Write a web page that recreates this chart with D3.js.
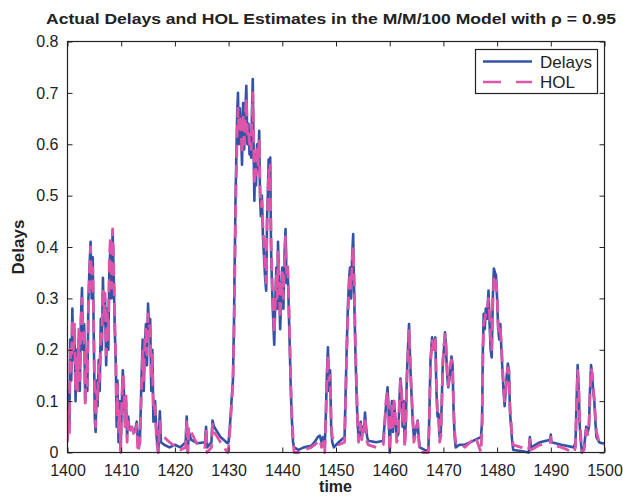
<!DOCTYPE html>
<html><head><meta charset="utf-8">
<script src="https://cdn.jsdelivr.net/npm/d3@7"></script>
<style>html,body{margin:0;padding:0;background:#fff;}svg{display:block;}</style>
</head><body>
<script>
const seriesNames = ["Delays", "HOL"];
const xTicks = [1400,1410,1420,1430,1440,1450,1460,1470,1480,1490,1500];
const yTicks = [0,0.1,0.2,0.3,0.4,0.5,0.6,0.7,0.8];
const yTickLabels = ["0","0.1","0.2","0.3","0.4","0.5","0.6","0.7","0.8"];

const times = [
1400.0,1400.2,1400.35,1400.5,1400.7,1400.9,1401.1,1401.3,
1401.5,1401.7,1401.9,1402.1,1402.3,1402.5,1402.7,1402.9,
1403.1,1403.3,1403.5,1403.7,1403.9,1404.1,1404.3,1404.5,
1404.7,1404.9,1405.1,1405.25,1405.4,1405.6,1405.8,1406.0,
1406.2,1406.4,1406.6,1406.8,1407.0,1407.2,1407.4,1407.6,
1407.8,1408.0,1408.2,1408.4,1408.6,1408.8,1409.0,1409.15,
1409.3,1409.5,1409.7,1409.9,1410.1,1410.3,1410.5,1410.7,
1410.9,1411.1,1411.3,1411.5,1412.0,1412.5,1412.9,1413.1,
1413.5,1413.8,1414.0,1414.2,1414.4,1414.6,1414.8,1415.0,
1415.2,1415.4,1415.6,1415.8,1416.0,1416.3,1416.6,1416.9,
1417.2,1417.4,1418.0,1419.0,1420.0,1421.0,1422.0,1422.2,
1422.4,1422.6,1423.0,1424.2,1425.6,1425.8,1426.0,1426.8,
1427.0,1427.3,1428.5,1429.8,1430.0,1430.3,1430.6,1430.8,
1431.0,1431.1,1431.3,1431.45,1431.6,1431.75,1431.9,1432.1,
1432.3,1432.5,1432.7,1432.9,1433.1,1433.3,1433.5,1433.7,
1433.9,1434.1,1434.2,1434.35,1434.5,1434.65,1434.8,1434.95,
1435.1,1435.3,1435.5,1435.7,1435.85,1436.0,1436.2,1436.4,
1436.6,1436.8,1437.0,1437.15,1437.3,1437.45,1437.6,1437.75,
1437.9,1438.1,1438.3,1438.5,1438.7,1438.9,1439.05,1439.2,
1439.4,1439.6,1439.8,1440.0,1440.2,1440.4,1440.6,1440.8,
1441.0,1441.2,1441.4,1441.6,1441.8,1442.0,1442.2,1443.0,
1444.0,1445.4,1446.0,1446.6,1447.0,1447.3,1447.6,1447.9,
1448.1,1448.3,1448.5,1448.7,1448.9,1449.1,1449.3,1449.6,
1450.5,1451.6,1451.8,1452.0,1452.2,1452.4,1452.6,1452.8,
1453.0,1453.2,1453.4,1453.6,1453.8,1454.0,1454.2,1454.4,
1454.6,1454.8,1455.0,1455.2,1455.4,1455.6,1455.8,1456.0,
1457.5,1458.8,1459.0,1459.3,1459.6,1459.8,1460.0,1460.2,
1460.4,1460.6,1460.8,1461.0,1461.3,1461.6,1461.8,1462.0,
1462.2,1462.4,1462.6,1462.8,1463.0,1463.2,1463.4,1463.6,
1463.8,1464.0,1464.3,1464.5,1464.7,1465.0,1465.2,1465.4,
1465.6,1466.5,1467.2,1467.4,1467.6,1467.9,1468.1,1468.3,
1468.5,1468.7,1468.9,1469.1,1469.3,1469.5,1469.7,1469.9,
1470.1,1470.3,1470.5,1470.7,1470.9,1471.1,1471.3,1471.5,
1471.7,1471.9,1472.1,1472.3,1473.0,1474.0,1475.0,1476.0,
1477.0,1477.2,1477.35,1477.5,1477.7,1477.9,1478.1,1478.4,
1478.6,1478.8,1479.0,1479.2,1479.4,1479.6,1479.8,1480.0,
1480.2,1480.4,1480.6,1480.8,1481.0,1481.2,1481.4,1481.6,
1481.8,1482.0,1482.2,1482.4,1482.6,1482.8,1483.0,1484.5,
1485.9,1486.1,1486.3,1488.0,1489.9,1490.0,1490.1,1492.0,
1494.3,1494.6,1494.8,1495.0,1495.2,1495.4,1495.6,1495.8,
1496.2,1496.6,1496.9,1497.1,1497.3,1497.5,1497.7,1497.9,
1498.1,1498.3,1498.5,1499.0,1499.5,1500.0
];

const delays = [
0.03,0.12,0.05,0.22,0.14,0.28,0.18,0.24,
0.1,0.2,0.13,0.22,0.12,0.26,0.32,0.2,
0.25,0.1,0.18,0.12,0.3,0.36,0.41,0.3,
0.38,0.22,0.06,0.04,0.14,0.09,0.18,0.12,
0.26,0.2,0.34,0.25,0.3,0.17,0.28,0.2,
0.36,0.4,0.3,0.43,0.35,0.24,0.17,0.05,
0.14,0.02,0.1,0.005,0.09,0.16,0.12,0.06,
0.1,0.03,0.07,0.05,0.045,0.04,0.06,0.02,
0.03,0.15,0.22,0.12,0.2,0.25,0.17,0.29,
0.24,0.26,0.12,0.2,0.06,0.1,0.03,0.0,
0.08,0.02,0.015,0.01,0.015,0.01,0.02,0.07,
0.0,0.04,0.025,0.018,0.02,0.05,0.01,0.02,
0.062,0.05,0.03,0.018,0.02,0.06,0.11,0.14,
0.25,0.34,0.5,0.58,0.66,0.7,0.6,0.67,
0.63,0.56,0.68,0.59,0.66,0.714,0.6,0.64,
0.58,0.62,0.574,0.66,0.727,0.6,0.49,0.58,
0.52,0.6,0.55,0.626,0.5,0.46,0.5,0.42,
0.38,0.34,0.315,0.45,0.5,0.57,0.52,0.574,
0.4,0.32,0.26,0.21,0.3,0.36,0.28,0.41,
0.33,0.24,0.3,0.36,0.28,0.38,0.435,0.33,
0.36,0.28,0.2,0.115,0.06,0.02,0.01,0.005,
0.01,0.013,0.02,0.03,0.033,0.02,0.03,0.01,
0.07,0.15,0.205,0.12,0.16,0.05,0.02,0.01,
0.02,0.03,0.12,0.205,0.28,0.33,0.36,0.3,
0.38,0.425,0.3,0.2,0.127,0.06,0.03,0.036,
0.06,0.03,0.05,0.04,0.078,0.05,0.03,0.023,
0.02,0.023,0.05,0.09,0.127,0.08,0.0,0.06,
0.1,0.04,0.1,0.07,0.03,0.036,0.1,0.144,
0.12,0.05,0.1,0.02,0.06,0.15,0.2,0.25,
0.18,0.127,0.06,0.03,0.036,0.05,0.062,0.03,
0.01,0.005,0.004,0.08,0.18,0.224,0.2,0.21,
0.224,0.12,0.07,0.075,0.03,0.036,0.1,0.18,
0.2,0.234,0.2,0.15,0.127,0.14,0.16,0.187,
0.17,0.08,0.03,0.01,0.015,0.015,0.02,0.025,
0.03,0.06,0.2,0.27,0.24,0.28,0.26,0.315,
0.25,0.2,0.185,0.3,0.358,0.35,0.345,0.3,
0.24,0.22,0.25,0.2,0.16,0.12,0.09,0.12,
0.15,0.173,0.16,0.08,0.05,0.023,0.005,0.003,
0.0,0.03,0.01,0.02,0.025,0.035,0.02,0.015,
0.01,0.02,0.1,0.17,0.12,0.05,0.02,0.0,
0.01,0.05,0.04,0.05,0.12,0.17,0.15,0.12,
0.1,0.06,0.03,0.02,0.018,0.018
];

const hol = [
0.02,0.08,0.03,0.2,0.16,0.26,0.2,0.25,
0.12,0.19,0.12,0.24,0.14,0.25,0.3,0.22,
0.24,0.09,0.2,0.13,0.28,0.35,0.4,0.32,
0.36,0.24,0.08,0.05,0.12,0.1,0.17,0.14,
0.24,0.22,0.32,0.27,0.31,0.19,0.27,0.22,
0.38,0.42,0.32,0.435,0.37,0.26,0.18,0.07,
0.13,0.04,0.09,0.0,0.1,0.15,0.13,0.05,
0.11,0.02,0.06,0.04,0.05,0.03,0.055,0.0,
0.02,0.13,0.2,0.14,0.22,0.24,0.19,0.27,
0.25,0.24,0.14,0.19,0.08,0.09,0.02,0.0,
0.06,0.03,0.03,0.02,0.012,0.005,0.01,0.065,
0.0,0.05,0.04,0.015,0.01,0.045,0.0,0.01,
0.055,0.04,0.02,0.0,0.01,0.05,0.1,0.13,
0.22,0.3,0.46,0.55,0.62,0.67,0.63,0.65,
0.64,0.58,0.66,0.6,0.65,0.69,0.62,0.63,
0.6,0.61,0.59,0.64,0.7,0.62,0.52,0.56,
0.54,0.59,0.56,0.61,0.52,0.48,0.49,0.44,
0.4,0.36,0.33,0.43,0.49,0.55,0.53,0.56,
0.42,0.34,0.28,0.23,0.29,0.35,0.3,0.39,
0.34,0.26,0.31,0.35,0.3,0.37,0.42,0.35,
0.37,0.3,0.22,0.13,0.07,0.03,0.0,0.0,
0.005,0.01,0.015,0.02,0.025,0.01,0.02,0.0,
0.06,0.14,0.19,0.14,0.15,0.06,0.03,0.025,
0.015,0.02,0.1,0.19,0.26,0.31,0.35,0.32,
0.37,0.4,0.33,0.22,0.14,0.07,0.02,0.04,
0.055,0.025,0.045,0.035,0.07,0.045,0.02,0.015,
0.01,0.015,0.04,0.1,0.12,0.07,0.0,0.05,
0.09,0.05,0.1,0.08,0.02,0.03,0.09,0.14,
0.125,0.06,0.095,0.01,0.05,0.14,0.19,0.24,
0.19,0.13,0.07,0.02,0.03,0.045,0.06,0.025,
0.0,0.0,0.0,0.07,0.17,0.22,0.21,0.2,
0.22,0.13,0.08,0.07,0.02,0.03,0.09,0.17,
0.21,0.23,0.21,0.16,0.13,0.15,0.17,0.18,
0.175,0.09,0.04,0.02,0.02,0.01,0.02,0.03,
0.0,0.05,0.18,0.25,0.26,0.27,0.27,0.3,
0.27,0.22,0.2,0.29,0.34,0.345,0.33,0.31,
0.25,0.23,0.24,0.21,0.17,0.13,0.1,0.115,
0.145,0.165,0.16,0.09,0.06,0.03,0.015,0.01,
0.005,0.025,0.005,0.015,0.02,0.03,0.015,0.01,
0.0,0.01,0.09,0.16,0.13,0.06,0.03,0.0,
0.005,0.045,0.035,0.05,0.11,0.165,0.155,0.13,
0.105,0.07,0.04,0.02,0.015,0.015
];

const W = 623, H = 496;
const margin = {left: 67.5, right: 623 - 604.5, top: 41.5, bottom: 496 - 452.5};
const colors = {Delays: "#3453a6", HOL: "#dc55a8"};
const FONT = "'Liberation Sans', Arial, Helvetica, sans-serif";

const svg = d3.select("body").append("svg").attr("width", W).attr("height", H)
  .style("font-family", FONT);

const x = d3.scaleLinear().domain([1400, 1500]).range([margin.left, W - margin.right]);
const y = d3.scaleLinear().domain([0, 0.8]).range([H - margin.bottom, margin.top]);

svg.append("clipPath").attr("id", "plotclip").append("rect")
  .attr("x", margin.left).attr("y", margin.top - 2)
  .attr("width", x(1500) - x(1400)).attr("height", y(0) - y(0.8) + 4);

const delayData = times.map((t, i) => [t, delays[i]]);
const holData = times.map((t, i) => [t, hol[i]]);
const line = d3.line().x(d => x(d[0])).y(d => y(d[1]));

const g = svg.append("g").attr("clip-path", "url(#plotclip)");
g.append("path").datum(delayData).attr("d", line)
  .attr("fill", "none").attr("stroke", colors.Delays).attr("stroke-width", 2.6)
  .attr("stroke-linejoin", "round");
g.append("path").datum(holData).attr("d", line)
  .attr("fill", "none").attr("stroke", colors.HOL).attr("stroke-width", 2.8)
  .attr("stroke-dasharray", "13,7").attr("stroke-linejoin", "round");

// axes
const axisColor = "#222";
const xAxis = d3.axisBottom(x).tickValues(xTicks).tickSize(-5).tickPadding(12).tickFormat(d3.format("d"));
const yAxis = d3.axisLeft(y).tickValues(yTicks).tickSize(-5).tickPadding(9).tickFormat((d, i) => yTickLabels[i]);
const xTop = d3.axisTop(x).tickValues(xTicks).tickSize(-5).tickFormat("");
const yRight = d3.axisRight(y).tickValues(yTicks).tickSize(-5).tickFormat("");

function styleAxis(sel) {
  sel.select(".domain").remove();
  sel.selectAll(".tick line").attr("stroke", axisColor).attr("stroke-width", 1);
  sel.selectAll(".tick text").attr("fill", axisColor).style("font-size", "16px")
    .style("font-family", FONT);
}
svg.append("g").attr("transform", `translate(0,${y(0)})`).call(xAxis).call(styleAxis);
svg.append("g").attr("transform", `translate(${x(1400)},0)`).call(yAxis).call(styleAxis);
svg.append("g").attr("transform", `translate(0,${y(0.8)})`).call(xTop).call(styleAxis);
svg.append("g").attr("transform", `translate(${x(1500)},0)`).call(yRight).call(styleAxis);

svg.append("rect").attr("x", x(1400)).attr("y", y(0.8))
  .attr("width", x(1500) - x(1400)).attr("height", y(0) - y(0.8))
  .attr("fill", "none").attr("stroke", axisColor).attr("stroke-width", 1.2);

// title & labels
svg.append("text").attr("x", 331).attr("y", 24).attr("text-anchor", "middle")
  .style("font-size", "15px").style("font-weight", "bold").attr("fill", "#222")
  .attr("textLength", 570).attr("lengthAdjust", "spacingAndGlyphs")
  .text("Actual Delays and HOL Estimates in the M/M/100 Model with ρ = 0.95");
svg.append("text").attr("x", 335.5).attr("y", 492).attr("text-anchor", "middle")
  .style("font-size", "16px").style("font-weight", "bold").attr("fill", "#222").text("time");
svg.append("text").attr("transform", `translate(24,${(y(0) + y(0.8)) / 2}) rotate(-90)`)
  .attr("text-anchor", "middle").style("font-size", "17px").style("font-weight", "bold")
  .attr("fill", "#222").text("Delays");

// legend
const lg = svg.append("g");
lg.append("rect").attr("x", 475.5).attr("y", 49.5).attr("width", 122).attr("height", 44)
  .attr("fill", "#fff").attr("stroke", axisColor).attr("stroke-width", 1.2);
seriesNames.forEach((name, i) => {
  const ly = 61.5 + i * 20.5;
  lg.append("line").attr("x1", 483).attr("x2", 532).attr("y1", ly).attr("y2", ly)
    .attr("stroke", colors[name]).attr("stroke-width", 2.6)
    .attr("stroke-dasharray", name === "HOL" ? "18,15" : null);
  lg.append("text").attr("x", 540).attr("y", ly + 6).style("font-size", "17px")
    .attr("fill", "#222").text(name);
});
</script>
</body></html>
